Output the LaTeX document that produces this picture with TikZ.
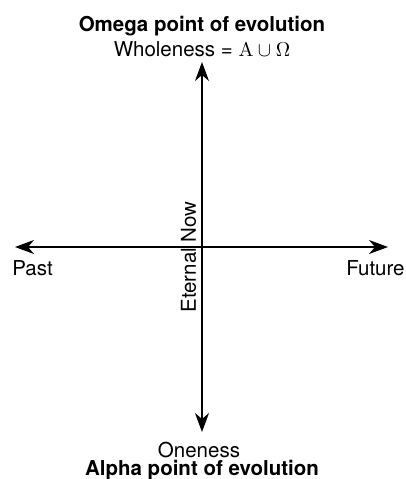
\documentclass[tikz,border=0pt]{standalone}
\usepackage[no-math]{fontspec}
\setmainfont{TeX Gyre Heros}
\usetikzlibrary{arrows.meta,positioning}

\begin{document}
\begin{tikzpicture}[x=0.5pt,y=-0.5pt,
    every node/.style={font=\fontsize{10.25}{12}\selectfont, inner sep=0pt},
    axis/.style={line width=0.55pt, {Stealth[length=9.5pt,width=7pt,inset=3pt]}-{Stealth[length=9.5pt,width=7pt,inset=3pt]}}]
    % Fix the page size
    \useasboundingbox (0,0) rectangle (406,479);

    % Define the ends of the two axes
    \coordinate (TopEnd) at (202,62);
    \coordinate (BottomEnd) at (202,432);
    \coordinate (PastEnd) at (15,247);
    \coordinate (FutureEnd) at (388,247);

    % Draw the time axis and the evolution axis
    \draw[axis] (PastEnd) -- (FutureEnd);
    \draw[axis] (BottomEnd) -- (TopEnd);

    % Labels at the top
    \node[anchor=base] (omega) at (202,31) {\bfseries Omega point of evolution};
    \node[anchor=base] (whole) at (202,56) {Wholeness = $\mathrm{A}\cup\Omega$};

    % Labels at the bottom
    \node[anchor=base] (one) at (199,457) {Oneness};
    \node[anchor=base] (alpha) at (202,475) {\bfseries Alpha point of evolution};

    % Labels of the time axis
    \node[anchor=base west] (past) at (12,275) {Past};
    \node[anchor=base east] (future) at (405,275) {Future};
    \node[anchor=base, rotate=90] (now) at (196,257) {Eternal Now};

\end{tikzpicture}
\end{document}
